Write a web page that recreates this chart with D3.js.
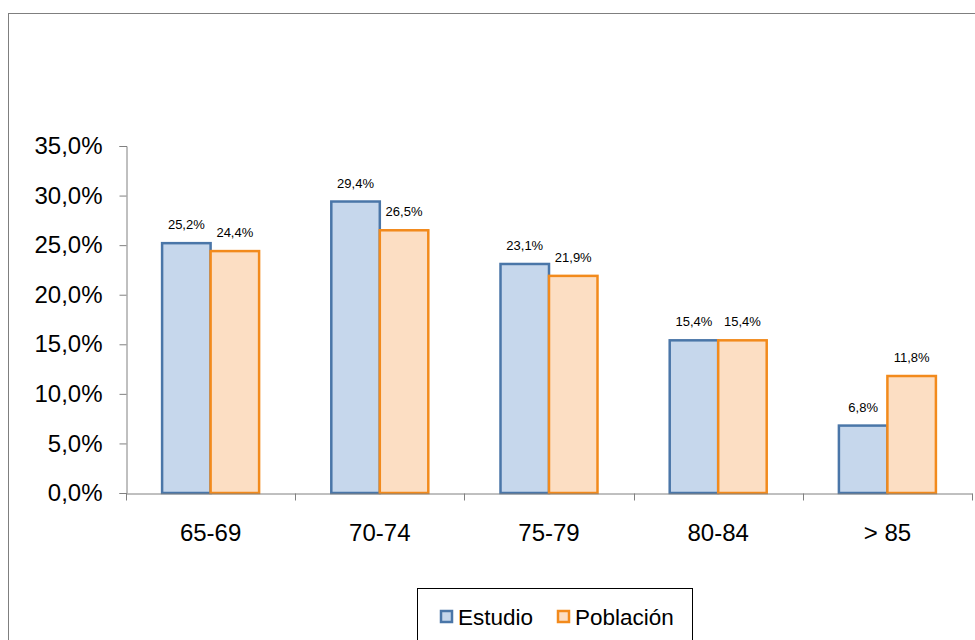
<!DOCTYPE html>
<html>
<head>
<meta charset="utf-8">
<script src="https://cdn.jsdelivr.net/npm/d3@7"></script>
<style>
  body { margin: 0; background: #fff; }
  text { font-family: "Liberation Sans", Arial, sans-serif; fill: #000; }
</style>
</head>
<body>
<div id="chart"></div>
<script>
var categories = ['65-69', '70-74', '75-79', '80-84', '> 85'];
var seriesNames = ['Estudio', 'Población'];
var estudio = [25.2, 29.4, 23.1, 15.4, 6.8];
var poblacion = [24.4, 26.5, 21.9, 15.4, 11.8];
var yTicks = [0, 5, 10, 15, 20, 25, 30, 35];

var fills = ['#C6D7EC', '#FCDEC3'];
var strokes = ['#4A76A8', '#F28A1C'];

var width = 975, height = 640;
var margin = { left: 126, right: 3, top: 146, bottom: 147 };

var svg = d3.select('#chart')
    .append('svg')
    .attr('width', width)
    .attr('height', height);

// outer frame
svg.append('rect')
    .attr('x', 8.5).attr('y', 13.5)
    .attr('width', 980).attr('height', 640)
    .attr('fill', 'none')
    .attr('stroke', '#7f7f7f')
    .attr('stroke-width', 1);

var x = d3.scaleBand()
    .domain(categories)
    .range([margin.left, width - margin.right]);

var y = d3.scaleLinear()
    .domain([0, 35])
    .range([height - margin.bottom, margin.top]);

var barW = 48.5;

// y axis
var yAxis = svg.append('g')
    .attr('transform', 'translate(' + (margin.left + 0.5) + ',0)')
    .call(d3.axisLeft(y).tickValues(yTicks).tickSize(7).tickPadding(17)
        .tickFormat(function (d) { return d.toFixed(1).replace('.', ',') + '%'; }));
yAxis.select('.domain').attr('stroke', '#808080');
yAxis.selectAll('.tick line').attr('stroke', '#808080');
yAxis.selectAll('text').attr('font-size', '24px').attr('fill', '#000');

// bars
var data = categories.map(function (c, i) {
    return { cat: c, values: [estudio[i], poblacion[i]] };
});

var groups = svg.selectAll('.grp').data(data).enter()
    .append('g').attr('class', 'grp');

groups.selectAll('rect').data(function (d) {
    return d.values.map(function (v, j) { return { cat: d.cat, v: v, j: j }; });
}).enter()
    .append('rect')
    .attr('x', function (d) { return x(d.cat) + x.bandwidth() / 2 - barW + d.j * barW; })
    .attr('y', function (d) { return y(d.v); })
    .attr('width', barW)
    .attr('height', function (d) { return y(0) - y(d.v); })
    .attr('fill', function (d) { return fills[d.j]; })
    .attr('stroke', function (d) { return strokes[d.j]; })
    .attr('stroke-width', 2.5);

groups.selectAll('.lbl').data(function (d) {
    return d.values.map(function (v, j) { return { cat: d.cat, v: v, j: j }; });
}).enter()
    .append('text')
    .attr('class', 'lbl')
    .attr('x', function (d) { return x(d.cat) + x.bandwidth() / 2 - barW / 2 + d.j * barW; })
    .attr('y', function (d) { return y(d.v) - 14; })
    .attr('text-anchor', 'middle')
    .attr('font-size', '13px')
    .text(function (d) { return d.v.toFixed(1).replace('.', ',') + '%'; });

// x axis
var xAxis = svg.append('g')
    .attr('transform', 'translate(0,' + (y(0) + 0.5) + ')')
    .call(d3.axisBottom(x).tickSize(0).tickPadding(30));
xAxis.select('.domain').attr('stroke', '#808080');
xAxis.selectAll('text').attr('font-size', '24px').attr('fill', '#000');
xAxis.selectAll('.sep').data(categories.concat(['end'])).enter()
    .append('line')
    .attr('class', 'sep')
    .attr('x1', function (d, i) { return Math.round(margin.left + i * x.step()) + 0.5; })
    .attr('x2', function (d, i) { return Math.round(margin.left + i * x.step()) + 0.5; })
    .attr('y1', 0).attr('y2', 7)
    .attr('stroke', '#808080');

// legend
var legend = svg.append('g');
legend.append('rect')
    .attr('x', 417.5).attr('y', 588.5)
    .attr('width', 275).attr('height', 70)
    .attr('fill', '#fff')
    .attr('stroke', '#000').attr('stroke-width', 1);

var legX = [441, 558];
seriesNames.forEach(function (name, i) {
    legend.append('rect')
        .attr('x', legX[i]).attr('y', 611)
        .attr('width', 11).attr('height', 11)
        .attr('fill', fills[i])
        .attr('stroke', strokes[i])
        .attr('stroke-width', 2.5);
    legend.append('text')
        .attr('x', legX[i] + 17).attr('y', 625)
        .attr('font-size', '22.5px')
        .text(name);
});
</script>
</body>
</html>
